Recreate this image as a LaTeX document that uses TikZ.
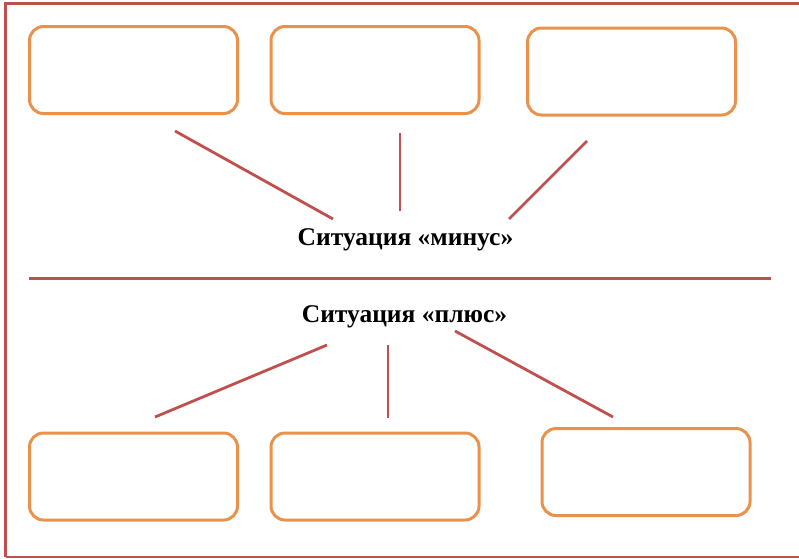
\documentclass[tikz,border=0pt]{standalone}
\usepackage{fontspec}
\setmainfont{Liberation Serif}
\definecolor{frame}{HTML}{C0504D}
\definecolor{boxline}{HTML}{E8924C}
\begin{document}
\begin{tikzpicture}[x=1pt,y=-1pt,
  card/.style={draw=boxline,line width=3pt,rounded corners=14pt,fill=white,
    minimum width=208pt,minimum height=87pt,inner sep=0pt,outer sep=0pt,anchor=north west},
  link/.style={draw=frame,line width=2.8pt},
  rule/.style={draw=frame,line width=3pt},
  caption/.style={font=\bfseries\fontsize{25.5}{30}\selectfont,anchor=base,inner sep=0pt}]
\useasboundingbox (0,0) rectangle (799,558);
% outer frame (left, top, bottom) and the dividing rule
\draw[rule] (5.5,557) -- (5.5,3.5) -- (799,3.5);
\draw[draw=frame,line width=2.5pt] (5.5,557) -- (799,557);
\coordinate (divL) at (29,278);
\coordinate (divR) at (771,278);
\draw[rule] (divL) -- (divR);
% upper row of cards
\node[card] (t1) at (29.5,26.5) {};
\node[card] (t2) at (271,26.5) {};
\node[card] (t3) at (527.5,28) {};
% lower row of cards
\node[card] (b1) at (29.5,433) {};
\node[card] (b2) at (271,433) {};
\node[card] (b3) at (542,428.5) {};
% captions
\node[caption] (minus) at (405.5,245) {Ситуация «минус»};
\node[caption] (plus) at (404.5,322) {Ситуация «плюс»};
% connector ends
\coordinate (m1a) at (175,131); \coordinate (m1b) at (333,219);
\coordinate (m2a) at (400,133); \coordinate (m2b) at (400,211);
\coordinate (m3a) at (587,141); \coordinate (m3b) at (509,219);
\coordinate (p1a) at (327,345); \coordinate (p1b) at (155,417);
\coordinate (p2a) at (388,345); \coordinate (p2b) at (388,418);
\coordinate (p3a) at (455,331); \coordinate (p3b) at (613,417);
\draw[link] (m1a) -- (m1b);
\draw[link] (m2a) -- (m2b);
\draw[link] (m3a) -- (m3b);
\draw[link] (p1a) -- (p1b);
\draw[link] (p2a) -- (p2b);
\draw[link] (p3a) -- (p3b);
\end{tikzpicture}
\end{document}
